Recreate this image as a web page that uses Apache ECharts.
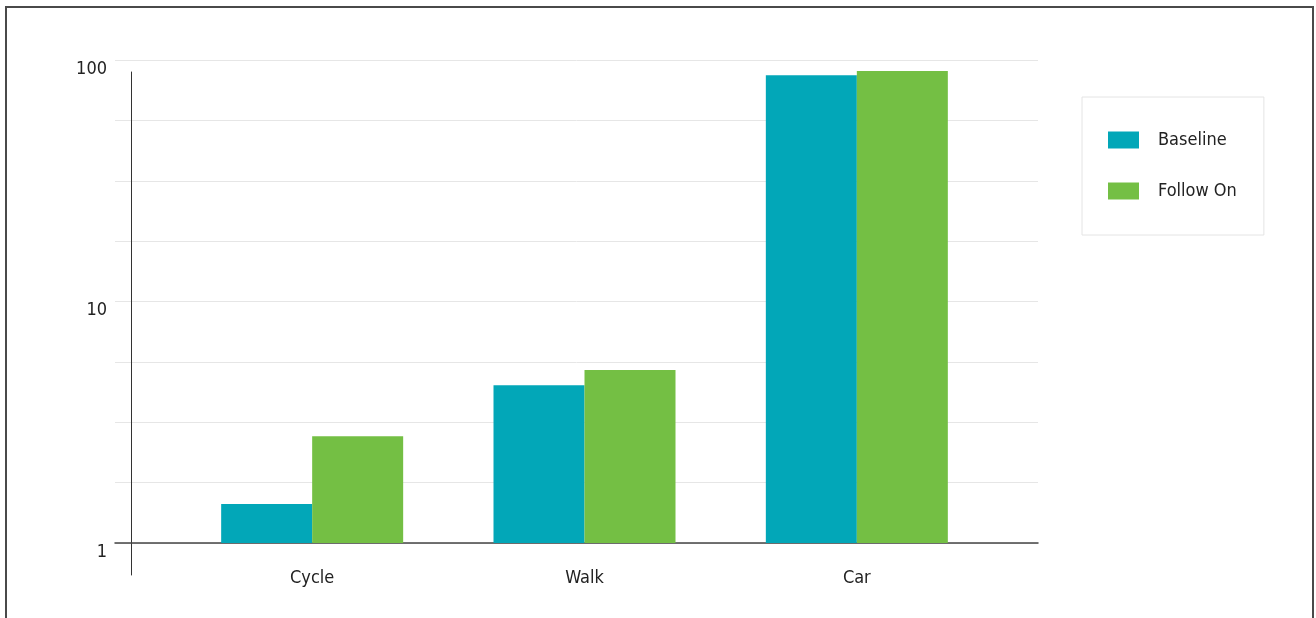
<!DOCTYPE html>
<html>
<head>
<meta charset="utf-8">
<script src="https://cdn.jsdelivr.net/npm/echarts@6/dist/echarts.min.js"></script>
<style>
html,body{margin:0;padding:0;background:#fff;}
#wrap{position:relative;width:1316px;height:618px;overflow:hidden;}
#chart{position:absolute;left:0;top:0;width:1316px;height:618px;}
#frame{position:absolute;left:5px;top:6px;width:1309px;height:700px;border:2px solid #4a4a4a;box-sizing:border-box;pointer-events:none;}
</style>
</head>
<body>
<div id="wrap"><div id="chart"></div><div id="frame"></div></div>
<script>
var categories = ['Cycle', 'Walk', 'Car'];
var seriesNames = ['Baseline', 'Follow On'];
var baseline = [1.45, 4.5, 86.5];
var followOn = [2.77, 5.2, 90];
var yTickLabels = [1, 10, 100];

var FONT = '"Liberation Sans Narrow", "DejaVu Sans Condensed", sans-serif';
var chart = echarts.init(document.getElementById('chart'), null, {renderer: 'canvas'});

function logLabel(v) {
  for (var i = 0; i < yTickLabels.length; i++) {
    if (Math.abs(v - yTickLabels[i]) / yTickLabels[i] < 1e-6) return String(yTickLabels[i]);
  }
  return '';
}

chart.setOption({
  animation: false,
  textStyle: {fontFamily: FONT},
  grid: [
    {left: 115, right: 278, top: 60, bottom: 75},
    {left: 176, right: 323, top: 60, bottom: 75},
    {left: 131, width: 1, top: 72, bottom: 43}
  ],
  legend: {
    orient: 'vertical',
    left: 1082, top: 97,
    padding: [34, 27, 35, 26],
    itemWidth: 31, itemHeight: 17, itemGap: 33,
    icon: 'rect',
    borderColor: '#e4e4e4', borderWidth: 1,
    textStyle: {fontFamily: FONT, fontSize: 18, lineHeight: 17, color: '#222', padding: [0, 0, 0, 14]},
    data: seriesNames
  },
  xAxis: [
    {gridIndex: 0, type: 'category', data: categories, boundaryGap: true,
     axisLine: {show: true, lineStyle: {color: '#444', width: 1.5}},
     axisTick: {show: false}, axisLabel: {show: false}, splitLine: {show: false}},
    {gridIndex: 1, type: 'category', data: categories,
     axisLine: {show: false}, axisTick: {show: false},
     axisLabel: {show: true, margin: 26, fontFamily: FONT, fontSize: 18, color: '#222'},
     splitLine: {show: false}},
    {gridIndex: 2, type: 'value', show: false}
  ],
  yAxis: [
    {gridIndex: 0, type: 'log', logBase: 10, min: 1, max: 100, interval: 0.25,
     axisLine: {show: false}, axisTick: {show: false},
     axisLabel: {show: true, margin: 8, fontFamily: FONT, fontSize: 18, color: '#222',
                 formatter: logLabel, verticalAlign: 'top', lineHeight: 18},
     splitLine: {show: true, lineStyle: {color: '#e6e6e6', width: 1}}},
    {gridIndex: 1, type: 'log', logBase: 10, min: 1, max: 100, show: false},
    {gridIndex: 2, type: 'value', min: 0, max: 1,
     axisLine: {show: true, lineStyle: {color: '#333', width: 1}},
     axisTick: {show: false}, axisLabel: {show: false}, splitLine: {show: false}}
  ],
  series: [
    {name: seriesNames[0], type: 'bar', xAxisIndex: 1, yAxisIndex: 1, data: baseline,
     barWidth: 91, barGap: '0%', itemStyle: {color: '#02a7b8'}},
    {name: seriesNames[1], type: 'bar', xAxisIndex: 1, yAxisIndex: 1, data: followOn,
     barWidth: 91, barGap: '0%', itemStyle: {color: '#74bf44'}}
  ]
});
</script>
</body>
</html>
